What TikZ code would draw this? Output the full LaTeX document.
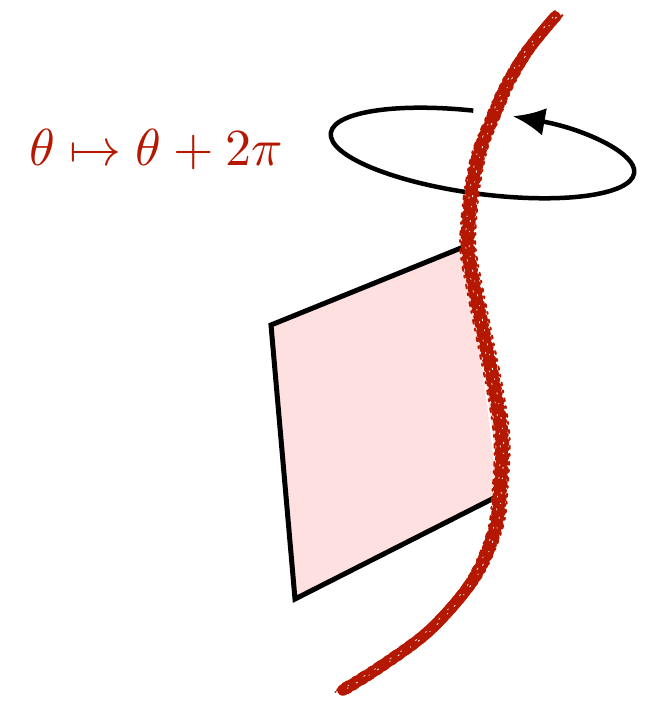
\documentclass[tikz,border=0pt]{standalone}
\usetikzlibrary{arrows.meta}
\definecolor{curvered}{RGB}{180,24,0}
\definecolor{sheetpink}{RGB}{254,224,224}
\tikzset{
  sheetfill/.style={fill=sheetpink},
  sheetedge/.style={draw=black, line width=5pt, line join=miter},
  loop/.style={draw=black, line width=4.5pt, -{Latex[length=32pt,width=28pt]}},
  rough/.style={draw=curvered, line cap=round, line join=round},
}
\begin{document}
\begin{tikzpicture}[x=1pt,y=1pt]
\useasboundingbox (0,0) rectangle (651,701);
% sheet
\fill[sheetfill] (468,453) -- (271,376) -- (295,102) -- (498,205)
  plot[smooth, tension=0.55] coordinates {(500,211) (502,261) (495,311) (485,361) (475,411) (468,451)} -- cycle;
\draw[sheetedge] (466,455) -- (271,376) -- (295,102) -- (498,205);
% rotation loop
\begin{scope}[shift={(482.5,548)}, rotate=-7.5]
  \draw[loop] (95.5:153 and 41) arc (95.5:440.5:153 and 41);
\end{scope}
% label
\node[text=curvered, scale=5.2, inner sep=0pt, anchor=base west] (lbl) at (28,535) {$\theta\mapsto\theta+2\pi$};
% rough red curve
\def\curvepath{plot[smooth, tension=0.55] coordinates {(555,684) (528,651) (508,618) (493,584) (480,551) (473,518) (469,484) (468,451) (475,411) (485,361) (495,311) (502,261) (500,211) (495,171) (473,121) (430,71) (380,34) (343,11)}}
\draw[rough, line width=11.5pt] \curvepath;
\draw[rough, line width=3pt, dash pattern=on 5pt off 3pt on 2pt off 4pt, xshift=5.5pt] \curvepath;
\draw[rough, line width=3pt, dash pattern=on 3pt off 4pt on 6pt off 2pt, xshift=-5.5pt] \curvepath;
\draw[rough, line width=2pt, dash pattern=on 2pt off 6pt on 3pt off 5pt, xshift=7.5pt, yshift=2pt] \curvepath;
\draw[rough, line width=2pt, dash pattern=on 4pt off 5pt on 2pt off 7pt, xshift=-7.5pt, yshift=-2pt] \curvepath;
\draw[rough, line width=3pt, dash pattern=on 6pt off 4pt on 3pt off 6pt, yshift=5.5pt] \curvepath;
\draw[rough, line width=3pt, dash pattern=on 4pt off 6pt on 5pt off 3pt, yshift=-5.5pt] \curvepath;
\draw[white, line width=0.8pt, dash pattern=on 2pt off 9pt on 1pt off 13pt, xshift=1.5pt] \curvepath;
\draw[white, line width=0.7pt, dash pattern=on 1.5pt off 11pt on 2pt off 17pt, xshift=-2pt] \curvepath;
\end{tikzpicture}
\end{document}
